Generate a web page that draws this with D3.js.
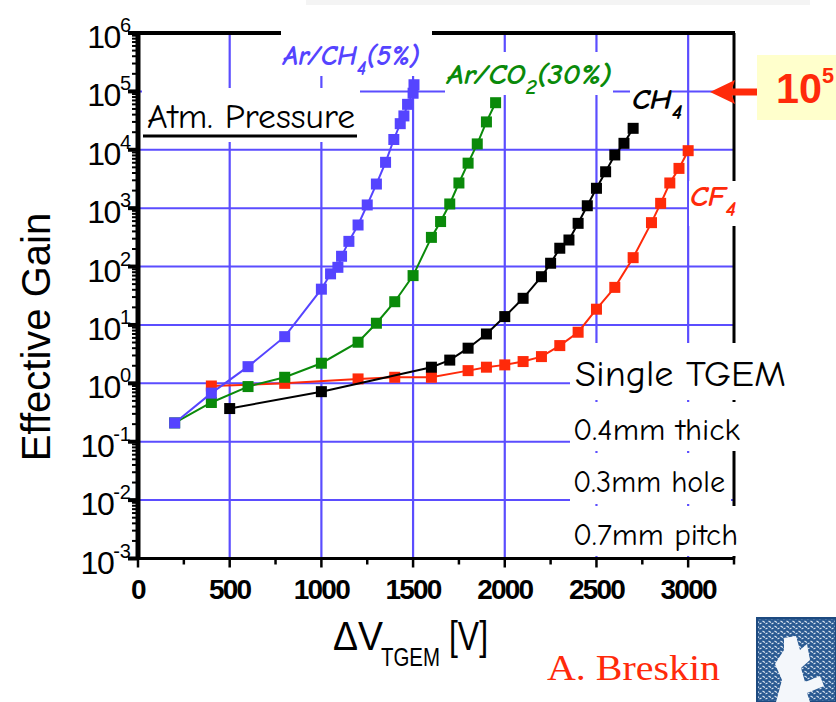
<!DOCTYPE html>
<html>
<head>
<meta charset="utf-8">
<script src="https://cdn.jsdelivr.net/npm/d3@7"></script>
<style>
  body { margin: 0; background: #fff; }
  svg { display: block; }
  .comic { font-family: "Comic Sans MS", "Comic Neue", Lato, sans-serif; }
  .arial { font-family: "Liberation Sans", Arial, sans-serif; }
</style>
</head>
<body>
<div id="container-svg"></div>
<script>
// Data
const xTicks = [0, 500, 1000, 1500, 2000, 2500, 3000];
const yExponents = [-3, -2, -1, 0, 1, 2, 3, 4, 5, 6];

const arCh4V = [200, 400, 600, 800, 1000, 1050, 1090, 1110, 1150, 1200, 1250, 1300, 1350, 1395, 1430, 1450, 1470, 1500, 1505];
const arCh4G = [0.21, 0.68, 1.93, 6.3, 41, 75, 97, 150, 270, 515, 1135, 2590, 6100, 15000, 28000, 38000, 60000, 93000, 130000];

const arCo2V = [200, 400, 600, 800, 1000, 1200, 1300, 1400, 1500, 1600, 1650, 1700, 1750, 1800, 1850, 1900, 1950];
const arCo2G = [0.21, 0.47, 0.88, 1.27, 2.21, 5.06, 10.7, 25, 70, 316, 590, 1180, 2700, 5900, 12600, 30000, 64000];

const ch4V = [500, 1000, 1600, 1700, 1800, 1900, 2000, 2100, 2200, 2250, 2300, 2350, 2400, 2450, 2500, 2550, 2600, 2650, 2700];
const ch4G = [0.37, 0.72, 1.89, 2.5, 4.0, 7.0, 13.9, 28.6, 67, 114, 206, 285, 550, 1100, 2190, 4200, 8150, 12900, 23300];

const cf4V = [400, 800, 1200, 1400, 1600, 1800, 1900, 2000, 2100, 2200, 2300, 2400, 2500, 2600, 2700, 2800, 2850, 2900, 2950, 3000];
const cf4G = [0.90, 1.0, 1.19, 1.27, 1.27, 1.65, 1.89, 2.07, 2.36, 2.87, 4.43, 7.5, 18.6, 44, 142, 565, 1210, 2700, 4800, 9650];

const GRID = "#5b4dff";
const series = [
    {V: cf4V, G: cf4G, color: "#ff2a0a"},
    {V: ch4V, G: ch4G, color: "#000000"},
    {V: arCo2V, G: arCo2G, color: "#0a8a0a"},
    {V: arCh4V, G: arCh4G, color: "#5544ff"}
];

const width = 836, height = 702;
const plot = {left: 138, right: 734, top: 33, bottom: 558.5};

const svg = d3.select("div#container-svg")
    .append("svg")
    .attr("width", width)
    .attr("height", height);

const x = d3.scaleLinear().domain([0, 3250]).range([plot.left, plot.right]);
const y = d3.scaleLog().domain([1e-3, 1e6]).range([plot.bottom, plot.top]);

// faint slide box at the top
svg.append("rect").attr("x", 306).attr("y", 0).attr("width", 504).attr("height", 5).attr("fill", "#f4f4f4");

// Grid
const gridGroup = svg.append("g");
gridGroup.selectAll("line.vgrid")
    .data(xTicks.filter(d => d > 0))
    .join("line")
    .attr("x1", d => x(d)).attr("x2", d => x(d))
    .attr("y1", plot.top).attr("y2", plot.bottom)
    .attr("stroke", GRID).attr("stroke-width", 2.2);
gridGroup.selectAll("line.hgrid")
    .data(yExponents.filter(e => e > -3 && e < 6))
    .join("line")
    .attr("x1", plot.left).attr("x2", plot.right)
    .attr("y1", e => y(Math.pow(10, e))).attr("y2", e => y(Math.pow(10, e)))
    .attr("stroke", GRID).attr("stroke-width", 2);

// Frame (top and right)
svg.append("line").attr("x1", plot.left).attr("x2", plot.right + 1)
    .attr("y1", plot.top).attr("y2", plot.top)
    .attr("stroke", "#000").attr("stroke-width", 4);
svg.append("line").attr("x1", plot.right).attr("x2", plot.right)
    .attr("y1", plot.top).attr("y2", plot.bottom)
    .attr("stroke", "#000").attr("stroke-width", 3);

// White label boxes covering grid (as in the slide)
const boxes = [
    [142, 88, 218, 54],   // Atm. Pressure
    [281, 29, 151, 47],   // Ar/CH4
    [445, 52, 168, 43],   // Ar/CO2
    [630, 84, 42, 42],    // CH4
    [689, 181, 52, 45],   // CF4
    [570, 343, 220, 57],  // Single TGEM
    [570, 402, 175, 49],
    [570, 453, 161, 51],
    [570, 506, 175, 50]
];
svg.append("g").selectAll("rect")
    .data(boxes)
    .join("rect")
    .attr("x", d => d[0]).attr("y", d => d[1])
    .attr("width", d => d[2]).attr("height", d => d[3])
    .attr("fill", "#fff");

// Axes
const yMinor = [];
yExponents.slice(0, -1).forEach(e => {
    for (let k = 2; k <= 9; k++) yMinor.push(k * Math.pow(10, e));
});
const axisGroup = svg.append("g");
axisGroup.selectAll("line.yminor")
    .data(yMinor)
    .join("line")
    .attr("x1", plot.left - 6).attr("x2", plot.left)
    .attr("y1", d => y(d)).attr("y2", d => y(d))
    .attr("stroke", "#000").attr("stroke-width", 2);
axisGroup.selectAll("line.ymajor")
    .data(yExponents)
    .join("line")
    .attr("x1", plot.left - 10).attr("x2", plot.left)
    .attr("y1", e => y(Math.pow(10, e))).attr("y2", e => y(Math.pow(10, e)))
    .attr("stroke", "#000").attr("stroke-width", 4);
axisGroup.append("line")
    .attr("x1", plot.left).attr("x2", plot.left)
    .attr("y1", plot.top - 2).attr("y2", plot.bottom + 1)
    .attr("stroke", "#000").attr("stroke-width", 5);

axisGroup.append("line")
    .attr("x1", plot.left).attr("x2", plot.right + 1)
    .attr("y1", plot.bottom).attr("y2", plot.bottom)
    .attr("stroke", "#000").attr("stroke-width", 3);
axisGroup.selectAll("line.xtick")
    .data(d3.range(0, 3251, 250))
    .join("line")
    .attr("x1", d => x(d)).attr("x2", d => x(d))
    .attr("y1", plot.bottom)
    .attr("y2", d => plot.bottom + (d % 500 === 0 ? 9 : 6))
    .attr("stroke", "#000").attr("stroke-width", 2.5);

svg.append("g").selectAll("text")
    .data(xTicks)
    .join("text")
    .attr("class", "arial")
    .attr("x", d => x(d))
    .attr("y", 599)
    .attr("text-anchor", "middle")
    .attr("font-size", 28)
    .attr("font-weight", "bold")
    .attr("letter-spacing", -1.8)
    .text(d => d);

const yLabels = svg.append("g").selectAll("text")
    .data(yExponents)
    .join("text")
    .attr("class", "arial")
    .attr("x", 131)
    .attr("y", e => y(Math.pow(10, e)) + 15)
    .attr("text-anchor", "end")
    .attr("font-size", 32)
    .attr("letter-spacing", -1.5);
yLabels.append("tspan").text("10");
yLabels.append("tspan").attr("dy", -16).attr("font-size", 20).attr("letter-spacing", 0).text(e => e);

// Axis titles
svg.append("text")
    .attr("class", "arial")
    .attr("transform", "translate(50,337) rotate(-90)")
    .attr("text-anchor", "middle")
    .attr("font-size", 40)
    .text("Effective Gain");

const xt = svg.append("text")
    .attr("class", "arial")
    .attr("y", 650)
    .attr("font-size", 40);
xt.append("tspan").attr("x", 333).attr("textLength", 50).attr("lengthAdjust", "spacingAndGlyphs").text("ΔV");
xt.append("tspan").attr("x", 381).attr("dy", 16).attr("font-size", 26)
    .attr("textLength", 59).attr("lengthAdjust", "spacingAndGlyphs").text("TGEM");
xt.append("tspan").attr("x", 449).attr("dy", -16)
    .attr("textLength", 39).attr("lengthAdjust", "spacingAndGlyphs").text("[V]");

// Series
const line = d3.line().x(d => x(d[0])).y(d => y(d[1]));
const seriesGroup = svg.append("g");
series.forEach(s => {
    const pts = s.V.map((v, i) => [v, s.G[i]]);
    seriesGroup.append("path")
        .attr("d", line(pts))
        .attr("fill", "none")
        .attr("stroke", s.color)
        .attr("stroke-width", 2);
    seriesGroup.append("g").selectAll("rect")
        .data(pts)
        .join("rect")
        .attr("x", d => x(d[0]) - 5.5)
        .attr("y", d => y(d[1]) - 5.5)
        .attr("width", 11).attr("height", 11)
        .attr("fill", s.color);
});

// Series labels
function gasLabel(xp, yp, color, main, sub, rest, len) {
    const t = svg.append("text")
        .attr("class", "comic")
        .attr("x", xp).attr("y", yp)
        .attr("fill", color)
        .attr("font-size", 28)
        .attr("font-style", "italic")
        .attr("font-weight", "bold")
        .attr("textLength", len).attr("lengthAdjust", "spacingAndGlyphs");
    t.append("tspan").text(main);
    t.append("tspan").attr("dy", 10).attr("font-size", 20).text(sub);
    if (rest) t.append("tspan").attr("dy", -10).text(rest);
    return t;
}
gasLabel(283, 65, "#5544ff", "Ar/CH", "4", "(5%)", 137);
gasLabel(447, 84, "#0a8a0a", "Ar/CO", "2", "(30%)", 165);
gasLabel(632, 109, "#000", "CH", "4", "", 50);
gasLabel(690, 206, "#ff2a0a", "CF", "4", "", 46);

// Text annotations
svg.append("text").attr("class", "comic")
    .attr("x", 147).attr("y", 128)
    .attr("font-size", 35)
    .attr("textLength", 208).attr("lengthAdjust", "spacingAndGlyphs")
    .text("Atm. Pressure");
svg.append("line").attr("x1", 143).attr("x2", 357)
    .attr("y1", 136).attr("y2", 136)
    .attr("stroke", "#000").attr("stroke-width", 3);

const tgemText = [
    {t: "Single TGEM", y: 386, size: 36, len: 211},
    {t: "0.4mm thick", y: 440, size: 30, len: 167},
    {t: "0.3mm hole", y: 492, size: 30, len: 152},
    {t: "0.7mm pitch", y: 545, size: 30, len: 165}
];
svg.append("g").selectAll("text")
    .data(tgemText)
    .join("text")
    .attr("class", "comic")
    .attr("x", d => d.t === "Single TGEM" ? 575 : 573)
    .attr("y", d => d.y)
    .attr("font-size", d => d.size)
    .attr("textLength", d => d.len).attr("lengthAdjust", "spacingAndGlyphs")
    .text(d => d.t);

// 10^5 callout with arrow
svg.append("rect").attr("x", 757).attr("y", 55).attr("width", 79).attr("height", 65).attr("fill", "#ffffcc");
const callout = svg.append("text")
    .attr("class", "arial")
    .attr("x", 776).attr("y", 103)
    .attr("fill", "#ff2a0a")
    .attr("font-size", 42)
    .attr("font-weight", "bold")
    .attr("textLength", 58).attr("lengthAdjust", "spacingAndGlyphs");
callout.append("tspan").text("10");
callout.append("tspan").attr("dy", -20).attr("font-size", 22).text("5");
svg.append("line").attr("x1", 728).attr("x2", 757)
    .attr("y1", 92).attr("y2", 92)
    .attr("stroke", "#ff2a0a").attr("stroke-width", 7);
svg.append("path")
    .attr("d", "M710,92 L735,80 L731,92 L735,104 Z")
    .attr("fill", "#ff2a0a");

// Author
svg.append("text")
    .attr("x", 547).attr("y", 680)
    .attr("font-family", "'Liberation Serif', 'Times New Roman', serif")
    .attr("font-size", 35)
    .attr("fill", "#ff2a0a")
    .attr("textLength", 173).attr("lengthAdjust", "spacingAndGlyphs")
    .text("A. Breskin");

// Logo (tree emblem)
const defs = svg.append("defs");
const pat = defs.append("pattern").attr("id", "leaves")
    .attr("width", 6).attr("height", 5).attr("patternUnits", "userSpaceOnUse");
pat.append("rect").attr("width", 6).attr("height", 5).attr("fill", "#2a5a92");
pat.append("path").attr("d", "M0.5,1 L3,2.5 M3.5,4 L5.5,3").attr("stroke", "#dfe8f3").attr("stroke-width", 1.1);
svg.append("rect").attr("x", 757).attr("y", 618).attr("width", 79).attr("height", 84)
    .attr("fill", "url(#leaves)").attr("stroke", "#1d4a80").attr("stroke-width", 2);
svg.append("path")
    .attr("d", "M776,702 L782,680 L775,664 L784,650 L784,638 L796,636 L800,650 L807,644 L810,660 L801,668 L805,682 L820,676 L824,686 L807,693 L810,702 Z")
    .attr("fill", "#f4f7fb");
</script>
</body>
</html>
